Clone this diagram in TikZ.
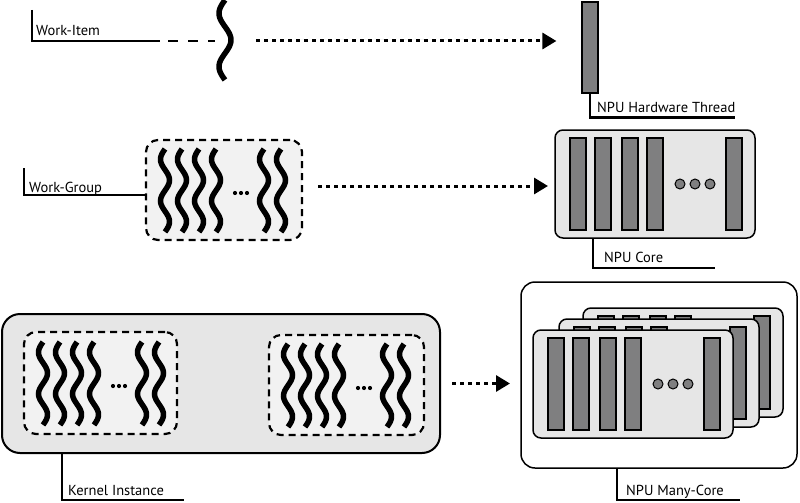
\documentclass[tikz,border=0pt]{standalone}
\usepackage{fontspec}
\setmainfont{PT Sans}
\usetikzlibrary{arrows.meta,positioning,calc}
\definecolor{BarGray}{HTML}{7F7F80}
\definecolor{CoreFill}{HTML}{E6E6E6}
\definecolor{GroupFill}{HTML}{F2F2F2}

% one wavy work-item: x, top, height, amplitude, cycles
\newcommand\thread[5]{%
  \draw[thread] plot[domain=0:1,samples=60,smooth,variable=\t]
    ({#1-#4*sin(360*#5*\t)},{#2+#3*\t});}

% the threads of a work-group: left x, centre y
\newcommand\threadgroup[2]{%
  \foreach \dx in {19,36,53,70,118,135}
    \thread{#1+\dx}{#2-41}{83}{4.5}{2};
  \foreach \dx in {89,95,101}
    \fill (#1+\dx,#2+3) circle (2.1);}

% bars and dots of a core node
\newcommand\corebars[1]{%
  \foreach \dx in {15,40,67,92,171}
    \draw[bar] ($(#1.north west)+(\dx,8)$) rectangle ($(#1.south west)+(\dx+16,-8)$);
  \foreach \dx in {125,140,155}
    \draw[coredot] ($(#1.west)+(\dx,0)$) circle (5);}

\begin{document}
\begin{tikzpicture}[x=1pt,y=-1pt,
    box/.style={draw, line width=1.5pt, inner sep=0pt, outer sep=0pt},
    group/.style={box, fill=GroupFill, line width=2.2pt, dash pattern=on 7pt off 5pt, rounded corners=12pt},
    core/.style={box, fill=CoreFill, rounded corners=8pt},
    bar/.style={draw, fill=BarGray, line width=1.2pt},
    coredot/.style={draw, fill=BarGray, line width=1pt},
    thread/.style={line width=5.5pt},
    lbl/.style={line width=2.3pt},
    lbltext/.style={font=\fontsize{14.5}{17}\selectfont, inner sep=0pt, anchor=base west},
    flow/.style={line width=3pt, dash pattern=on 4pt off 4pt, -{Triangle[length=14pt,width=16pt]}}]
  \useasboundingbox (0,0) rectangle (800,503);

  % work-item -> hardware thread
  \coordinate (wi) at (225,41);
  \coordinate (wiend) at (160,41);
  \node[lbltext] (wilbl) at (36,36) {Work-Item};
  \draw[lbl] (32,10) |- (wiend);
  \draw[line width=2pt, dash pattern=on 10pt off 10pt] (wiend) ++(8,0) -- ($(wi)+(-10,0)$);
  \thread{225}{0}{80}{6}{1.5}
  \node[bar, minimum width=16pt, minimum height=91pt, inner sep=0pt] (hw) at (590,47.5) {};
  \draw[lbl] (hw.south) |- ++(145,24);
  \node[lbltext] (hwlbl) at (597,112) {NPU Hardware Thread};
  \draw[flow] ($(wi)+(31,0)$) -- ($(hw.west |- wi)+(-25,0)$);

  % work-group -> core
  \node[group, minimum width=156pt, minimum height=100pt] (wg) at (224,190) {};
  \threadgroup{146}{190}
  \draw[lbl] (24,168) |- ($(wg.west)+(0,5)$);
  \node[lbltext] (wglbl) at (29,192) {Work-Group};
  \node[core, minimum width=200pt, minimum height=108pt] (core) at (655,184) {};
  \corebars{core}
  \draw[lbl] ($(core.south west)+(38,0)$) |- ++(122,30);
  \node[lbltext] (corelbl) at (604,262) {NPU Core};
  \draw[flow] ($(wg.east)+(16,-4)$) -- ($(core.west)+(-7,2)$);

  % kernel instance -> many-core
  \node[core, rounded corners=18pt, line width=2pt, minimum width=438pt, minimum height=139pt] (kernel) at (221,383.5) {};
  \node[group, minimum width=153pt, minimum height=102pt] (kg1) at (100.5,383) {};
  \threadgroup{24}{383}
  \node[group, minimum width=155pt, minimum height=100pt] (kg2) at (346.5,385) {};
  \threadgroup{269}{385}
  \draw[lbl] ($(kernel.south west)+(60,0)$) |- ++(122,47);
  \node[lbltext] (klbl) at (68,495) {Kernel Instance};

  \node[box, fill=white, rounded corners=14pt, minimum width=276pt, minimum height=186pt] (many) at (659,375) {};
  \node[core, minimum width=200pt, minimum height=109pt] (mc3) at (683,362.5) {};
  \corebars{mc3}
  \node[core, minimum width=200pt, minimum height=108pt] (mc2) at (659,373) {};
  \corebars{mc2}
  \node[core, minimum width=200pt, minimum height=108pt] (mc1) at (633,384) {};
  \corebars{mc1}
  \draw[lbl] ($(many.south west)+(96,0)$) |- ++(123,32);
  \node[lbltext] (manylbl) at (626,495) {NPU Many-Core};
  \draw[flow] ($(kernel.east)+(12,0)$) -- ($(many.west |- kernel.east)+(-11,0)$);
\end{tikzpicture}
\end{document}
